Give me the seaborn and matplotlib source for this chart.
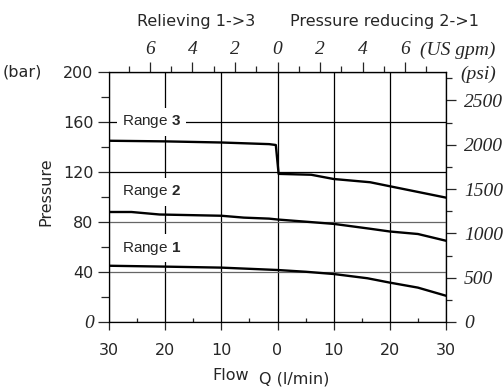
import numpy as np
import pandas as pd
import seaborn as sns
import matplotlib.pyplot as plt

# flow in l/min, negative = relieving side (1->3), positive = reducing side (2->1)
range1_flow = [-30, -20, -10, 0, 5, 10, 16, 20, 25, 30]
range1_bar = [45, 44.3, 43.5, 41.6, 40.2, 38.4, 35, 31.5, 27.5, 21]

range2_flow = [-30, -26, -21, -10, -6, -1.5, 0, 10, 16.5, 20, 25, 30]
range2_bar = [88, 88, 86, 85, 83.5, 82.7, 82, 78.5, 74.6, 72.4, 70.4, 65]

range3_flow = [-30, -20, -10, -1.5, -0.3, 0.2, 6, 10, 16.5, 20, 30]
range3_bar = [145, 144.5, 143.6, 142.3, 141.6, 118.5, 117.8, 114.4, 111.8, 108.6, 99.5]

range_names = ['1', '2', '3']
label_pos = [59, 104, 160]   # bar where each "Range n" label sits

flow_ticks = [-30, -20, -10, 0, 10, 20, 30]
flow_labels = ['30', '20', '10', '0', '10', '20', '30']
bar_ticks = [0, 40, 80, 120, 160, 200]
bar_labels = ['0', '40', '80', '120', '160', '200']
gpm_ticks = [-6, -4, -2, 0, 2, 4, 6]
gpm_labels = ['6', '4', '2', '0', '2', '4', '6']
psi_ticks = [0, 500, 1000, 1500, 2000, 2500]
psi_labels = ['0', '500', '1000', '1500', '2000', '2500']

LPM_PER_GPM = 3.785
PSI_PER_BAR = 14.1   # as drawn on the chart

df = pd.concat([
    pd.DataFrame({'flow': range1_flow, 'pressure': range1_bar, 'range': '1'}),
    pd.DataFrame({'flow': range2_flow, 'pressure': range2_bar, 'range': '2'}),
    pd.DataFrame({'flow': range3_flow, 'pressure': range3_bar, 'range': '3'}),
])

sns.set_style('white')
plt.rcParams['font.family'] = ['DejaVu Sans']
plt.rcParams['mathtext.fontset'] = 'custom'
plt.rcParams['mathtext.rm'] = 'Liberation Sans'
plt.rcParams['mathtext.bf'] = 'Liberation Sans:bold'

W, H = 504, 387
fig = plt.figure(figsize=(W / 100, H / 100), dpi=100)
ax = fig.add_axes([109 / W, 1 - 322 / H, (446 - 109) / W, (322 - 72) / H])

sns.lineplot(data=df, x='flow', y='pressure', units='range', estimator=None,
             sort=False, color='black', lw=1.7, ax=ax, legend=False)

ax.set_xlim(-30, 30)
ax.set_ylim(0, 200)
ax.set_xlabel('')
ax.set_ylabel('')

sans = dict(family='DejaVu Sans', size=11.5)
serif_it = dict(family='Liberation Serif', style='italic', size=14)

# bottom axis
ax.set_xticks(flow_ticks)
ax.set_xticklabels(flow_labels, fontdict=sans)
ax.set_xticks([-25, -15, -5, 5, 15, 25], minor=True)
ax.tick_params(axis='x', which='major', direction='out', length=6, width=0.9, pad=9, bottom=True)
ax.tick_params(axis='x', which='minor', direction='in', length=3, width=0.9, bottom=True)

# left axis
ax.set_yticks(bar_ticks)
ax.set_yticklabels(bar_labels, fontdict=sans)
ax.set_yticks([20, 60, 100, 140, 180], minor=True)
ax.tick_params(axis='y', which='major', direction='out', length=8, width=0.9, pad=3, left=True)
ax.tick_params(axis='y', which='minor', direction='out', length=6, width=0.9, left=True)
zero = ax.get_yticklabels()[0]
zero.set_fontfamily('Liberation Serif')
zero.set_fontstyle('italic')
zero.set_fontsize(14)

ax.grid(True, which='major', color='black', lw=0.9)
for i, gl in enumerate(ax.yaxis.get_gridlines()):
    if bar_ticks[i] in (40, 80):
        gl.set_color('#666666')

for sp in ax.spines.values():
    sp.set_color('black')
    sp.set_linewidth(0.9)

# top axis in US gpm
top = ax.secondary_xaxis('top', functions=(lambda x: x / LPM_PER_GPM, lambda g: g * LPM_PER_GPM))
top.set_xticks(gpm_ticks)
top.set_xticklabels(gpm_labels, fontdict=serif_it)
top.set_xticks([-7, -5, -3, -1, 1, 3, 5, 7], minor=True)
top.tick_params(which='major', direction='out', length=7, width=0.9, pad=3)
top.tick_params(which='minor', direction='out', length=4, width=0.9)

# right axis in psi
right = ax.secondary_yaxis('right', functions=(lambda b: b * PSI_PER_BAR, lambda p: p / PSI_PER_BAR))
right.set_yticks(psi_ticks)
right.set_yticklabels(psi_labels, fontdict=serif_it)
right.set_yticks([250, 750, 1250, 1750, 2250, 2750], minor=True)
right.tick_params(which='major', direction='out', length=7, width=0.9, pad=6)
right.tick_params(which='minor', direction='out', length=4, width=0.9)

# range labels with white boxes
for name, p in zip(range_names, label_pos):
    ax.text(-27.7, p, 'Range $\\mathbf{' + name + '}$', fontsize=11, family='Liberation Sans',
            ha='left', va='center', zorder=4,
            bbox=dict(boxstyle='square,pad=0.35', facecolor='white', edgecolor='none'))

# texts around the axes
fig.text(3 / W, 1 - 72 / H, '(bar)', ha='left', va='center', **sans)
fig.text(46 / W, 1 - 192 / H, 'Pressure', rotation=90, ha='center', va='center', **sans)
fig.text(212 / W, 1 - 380 / H, 'Flow', ha='left', va='baseline', **sans)
fig.text(259 / W, 1 - 383 / H, 'Q (l/min)', ha='left', va='baseline', **sans)
fig.text(196 / W, 1 - 26 / H, 'Relieving 1->3', ha='center', va='baseline', **sans)
fig.text(384 / W, 1 - 26 / H, 'Pressure reducing 2->1', ha='center', va='baseline', **sans)
fig.text(420 / W, 1 - 55 / H, '(US gpm)', ha='left', va='baseline', **serif_it)
fig.text(460 / W, 1 - 79 / H, '(psi)', ha='left', va='baseline', **serif_it)

fig.savefig('out.png', dpi=100, facecolor='white')
